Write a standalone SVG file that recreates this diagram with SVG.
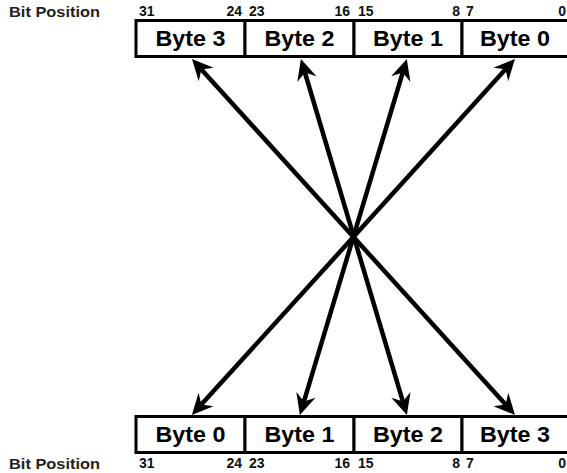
<svg xmlns="http://www.w3.org/2000/svg" width="567" height="473" viewBox="0 0 567 473">
<style>
.lbl{font-family:"Liberation Sans",Arial,sans-serif;font-weight:bold;font-size:15px;fill:#222}
.num{font-family:"Liberation Sans",Arial,sans-serif;font-weight:bold;font-size:14px;fill:#111}
.byte{font-family:"Liberation Sans",Arial,sans-serif;font-weight:bold;font-size:22px;fill:#000;text-anchor:middle}
.cell{fill:#fff;stroke:#000;stroke-width:3}
.conn{stroke:#000;stroke-width:4.5;fill:none;marker-start:url(#ah);marker-end:url(#ah)}
</style>
<defs>
<marker id="ah" markerUnits="userSpaceOnUse" viewBox="-8 -11 24 22" markerWidth="24" markerHeight="22" refX="0" refY="0" orient="auto-start-reverse" overflow="visible">
<path d="M14,0 L-7,-10 L0,0 L-7,10 Z" fill="#000"/>
</marker>
</defs>
<rect width="567" height="473" fill="#fff"/>
<g id="top-labels">
<text class="lbl" x="9" y="17" textLength="91" lengthAdjust="spacingAndGlyphs">Bit Position</text>
<text class="num" x="139" y="16">31</text>
<text class="num" x="242" y="16" text-anchor="end">24</text>
<text class="num" x="249" y="16">23</text>
<text class="num" x="350" y="16" text-anchor="end">16</text>
<text class="num" x="358" y="16">15</text>
<text class="num" x="460" y="16" text-anchor="end">8</text>
<text class="num" x="466" y="16">7</text>
<text class="num" x="566" y="16" text-anchor="end">0</text>
</g>
<g id="top-byte3"><rect class="cell" x="136" y="20.5" width="109" height="36"/><text class="byte" x="190.5" y="46" textLength="70" lengthAdjust="spacingAndGlyphs">Byte 3</text></g>
<g id="top-byte2"><rect class="cell" x="245" y="20.5" width="109" height="36"/><text class="byte" x="299.5" y="46" textLength="70" lengthAdjust="spacingAndGlyphs">Byte 2</text></g>
<g id="top-byte1"><rect class="cell" x="354" y="20.5" width="108" height="36"/><text class="byte" x="408" y="46" textLength="70" lengthAdjust="spacingAndGlyphs">Byte 1</text></g>
<g id="top-byte0"><rect class="cell" x="462" y="20.5" width="108" height="36"/><text class="byte" x="515" y="46" textLength="70" lengthAdjust="spacingAndGlyphs">Byte 0</text></g>
<g id="bottom-byte0"><rect class="cell" x="136" y="416.5" width="109" height="36"/><text class="byte" x="190.5" y="442" textLength="70" lengthAdjust="spacingAndGlyphs">Byte 0</text></g>
<g id="bottom-byte1"><rect class="cell" x="245" y="416.5" width="109" height="36"/><text class="byte" x="299.5" y="442" textLength="70" lengthAdjust="spacingAndGlyphs">Byte 1</text></g>
<g id="bottom-byte2"><rect class="cell" x="354" y="416.5" width="108" height="36"/><text class="byte" x="408" y="442" textLength="70" lengthAdjust="spacingAndGlyphs">Byte 2</text></g>
<g id="bottom-byte3"><rect class="cell" x="462" y="416.5" width="108" height="36"/><text class="byte" x="515" y="442" textLength="70" lengthAdjust="spacingAndGlyphs">Byte 3</text></g>
<g id="bottom-labels">
<text class="lbl" x="9" y="469" textLength="91" lengthAdjust="spacingAndGlyphs">Bit Position</text>
<text class="num" x="139" y="468">31</text>
<text class="num" x="242" y="468" text-anchor="end">24</text>
<text class="num" x="249" y="468">23</text>
<text class="num" x="350" y="468" text-anchor="end">16</text>
<text class="num" x="358" y="468">15</text>
<text class="num" x="460" y="468" text-anchor="end">8</text>
<text class="num" x="466" y="468">7</text>
<text class="num" x="566" y="468" text-anchor="end">0</text>
</g>
<g id="connectors">
<line class="conn" x1="505.6" y1="404.6" x2="201.4" y2="69.4"/>
<line class="conn" x1="402.9" y1="401.6" x2="304.9" y2="72.5"/>
<line class="conn" x1="303.9" y1="401.6" x2="402.8" y2="72.4"/>
<line class="conn" x1="201.3" y1="404.6" x2="505.5" y2="69.3"/>
</g>
</svg>
